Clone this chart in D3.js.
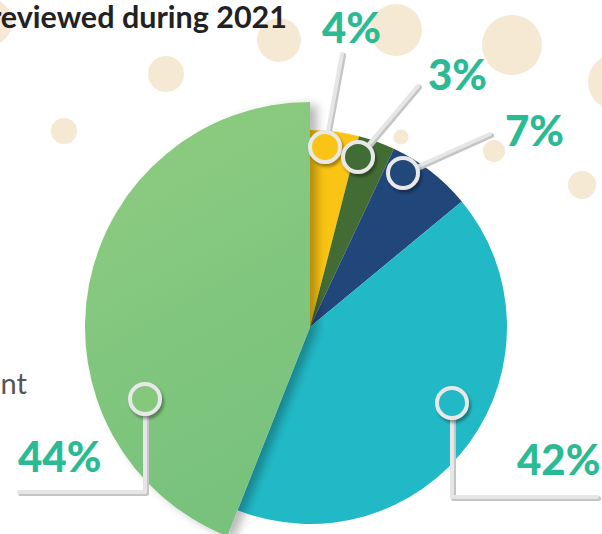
<!DOCTYPE html>
<html>
<head>
<meta charset="utf-8">
<script src="https://cdn.jsdelivr.net/npm/d3@7/dist/d3.min.js"></script>
<style>
  html, body { margin: 0; padding: 0; background: #fff; overflow: hidden; }
  svg { display: block; font-family: Lato, "Open Sans", sans-serif; }
</style>
</head>
<body>
<svg id="chart" width="602" height="534"></svg>
<script>
// Share of cases per category (percent), clockwise from 12 o'clock
const categories = ["cat1", "cat2", "cat3", "cat4", "cat5"];
const values = [4, 3, 7, 42, 44];
const valueLabels = values.map(v => v + "%");
const colors = ["#f9c413", "#436c34", "#214679", "#22b9c7", "#85c77d"];

const titleText = "reviewed during 2021";
const sideText = "nt";

// Decorative background bubbles: [cx, cy, r]
const bubbles = [
  [-12, 22, 24], [279, 40, 22], [396, 30, 26], [512, 45, 30], [616, 82, 28],
  [166, 74, 18], [64, 131, 13], [401, 137, 7.5], [494, 151, 11], [582, 185, 14]
];

// Callout layout: ring position, leader path, label anchor
const callouts = [
  { ring: [325, 147], path: [[325, 147], [342, 54]], label: [322, 43] },
  { ring: [358, 157], path: [[358, 157], [418, 86]], label: [428, 90] },
  { ring: [403, 173], path: [[403, 173], [490, 134]], label: [505, 146] },
  { ring: [452, 403], path: [[452, 403], [452, 497], [597, 497]], label: [517, 475] },
  { ring: [145, 399], path: [[145, 399], [145, 492], [19, 492]], label: [18, 472] }
];

const svg = d3.select("#chart");
const defs = svg.append("defs");

const grad = defs.append("linearGradient").attr("id", "bigGrad")
  .attr("x1", "0%").attr("y1", "0%").attr("x2", "30%").attr("y2", "100%");
grad.append("stop").attr("offset", "0%").attr("stop-color", "#8fcc80");
grad.append("stop").attr("offset", "100%").attr("stop-color", "#78c27d");

const sliceShadow = defs.append("filter").attr("id", "sliceShadow")
  .attr("x", "-20%").attr("y", "-20%").attr("width", "140%").attr("height", "140%");
sliceShadow.append("feDropShadow").attr("dx", 7).attr("dy", 3)
  .attr("stdDeviation", 5).attr("flood-color", "#000").attr("flood-opacity", 0.28);

const ringShadow = defs.append("filter").attr("id", "ringShadow")
  .attr("x", "-50%").attr("y", "-50%").attr("width", "200%").attr("height", "200%");
ringShadow.append("feDropShadow").attr("dx", 2).attr("dy", 3)
  .attr("stdDeviation", 1.5).attr("flood-color", "#000").attr("flood-opacity", 0.35);

// Background bubbles
svg.append("g").selectAll("circle").data(bubbles).join("circle")
  .attr("cx", d => d[0]).attr("cy", d => d[1]).attr("r", d => d[2])
  .attr("fill", "#f5e9d4");

// Title and side text
svg.append("text").attr("x", 287).attr("y", 28).attr("text-anchor", "end")
  .attr("font-size", 30.5).attr("font-weight", 700).attr("fill", "#222")
  .text(titleText);
svg.append("text").attr("x", 27).attr("y", 394).attr("text-anchor", "end")
  .attr("font-size", 29).attr("font-weight", 400).attr("fill", "#555")
  .text(sideText);

// Pie
const cx = 310, cy = 327;
const rBase = 197, rBig = 225;
const pie = d3.pie().sort(null).value(d => d)(values);
const bigIndex = values.indexOf(d3.max(values));

const g = svg.append("g").attr("transform", `translate(${cx},${cy})`);
const arcBase = d3.arc().innerRadius(0).outerRadius(rBase);
const arcBig = d3.arc().innerRadius(0).outerRadius(rBig);

g.selectAll("path.slice").data(pie.filter((d, i) => i !== bigIndex)).join("path")
  .attr("class", "slice")
  .attr("d", arcBase)
  .attr("fill", d => colors[d.index]);

g.append("path").datum(pie[bigIndex])
  .attr("d", arcBig)
  .attr("fill", "url(#bigGrad)")
  .attr("filter", "url(#sliceShadow)");

// Callouts
const line = d3.line();
const cg = svg.append("g");
callouts.forEach((c, i) => {
  cg.append("path").attr("d", line(c.path.map(p => [p[0] + 1.5, p[1] + 1.5])))
    .attr("fill", "none").attr("stroke", "#c5c5c5").attr("stroke-width", 5)
    .attr("stroke-linecap", "round").attr("stroke-linejoin", "round");
  cg.append("path").attr("d", line(c.path))
    .attr("fill", "none").attr("stroke", "#e6e6e6").attr("stroke-width", 4)
    .attr("stroke-linecap", "round").attr("stroke-linejoin", "round");
  cg.append("circle").attr("cx", c.ring[0]).attr("cy", c.ring[1]).attr("r", 15)
    .attr("fill", i === bigIndex ? "#85c77d" : colors[i])
    .attr("stroke", "#e8e8e8").attr("stroke-width", 4)
    .attr("filter", "url(#ringShadow)");
  cg.append("text").attr("x", c.label[0]).attr("y", c.label[1])
    .attr("font-size", 42).attr("font-weight", 900).attr("fill", "#2bbb94")
    .text(valueLabels[i]);
});
</script>
</body>
</html>
